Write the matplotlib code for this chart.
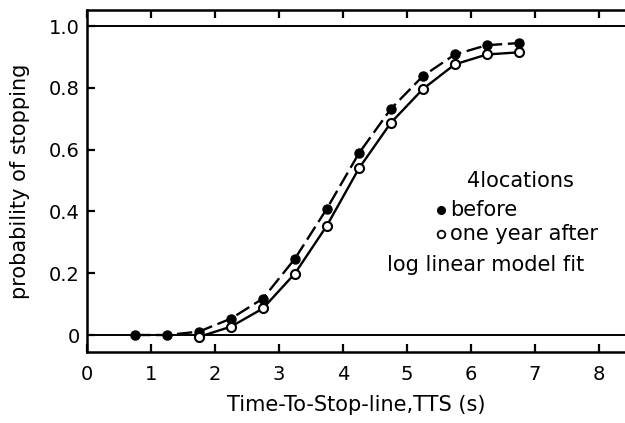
import numpy as np
import matplotlib
matplotlib.use('Agg')
import matplotlib.pyplot as plt

# values
tts = [0.75, 1.25, 1.75, 2.25, 2.75, 3.25, 3.75, 4.25, 4.75, 5.25, 5.75, 6.25, 6.75]
p_before = [0.0, 0.0, 0.011, 0.053, 0.118, 0.247, 0.409, 0.588, 0.732, 0.838, 0.908, 0.938, 0.945]
tts_after = [1.75, 2.25, 2.75, 3.25, 3.75, 4.25, 4.75, 5.25, 5.75, 6.25, 6.75]
p_after = [-0.006, 0.027, 0.086, 0.199, 0.354, 0.539, 0.687, 0.796, 0.876, 0.908, 0.915]

x_ticks = [0, 1, 2, 3, 4, 5, 6, 7, 8]
y_ticks = [0, 0.2, 0.4, 0.6, 0.8, 1.0]
y_ticklabels = ["0", "0.2", "0.4", "0.6", "0.8", "1.0"]

plt.rcParams['font.family'] = ['DejaVu Sans']
fs_tick = 14
fs_lab = 15
fs_key = 15

fig = plt.figure(figsize=(6.25, 4.23), dpi=100)
ax = fig.add_axes([87 / 625, 1 - 352 / 423, 1 - 87 / 625, (352 - 10) / 423])

ax.set_xlim(0, 8.41)
ax.set_ylim(-0.055, 1.052)

# reference lines at 0 and 1
ax.axhline(0, color='black', lw=1.4, zorder=1)
ax.axhline(1.0, color='black', lw=1.4, zorder=1)

ax.plot(tts, p_before, color='black', lw=1.7, dashes=(6.5, 2.4),
        marker='o', ms=6.5, mfc='black', mec='black', zorder=3)
ax.plot(tts_after, p_after, color='black', lw=1.7, ls='-',
        marker='o', ms=6.5, mfc='white', mec='black', mew=1.5, zorder=4)

for side in ['left', 'bottom', 'top']:
    ax.spines[side].set_linewidth(1.8)
ax.spines['right'].set_visible(False)

ax.set_xticks(x_ticks)
ax.set_yticks(y_ticks)
ax.set_yticklabels(y_ticklabels)
ax.tick_params(axis='x', direction='in', length=6, width=1.6, top=True,
               labelsize=fs_tick, pad=9)
ax.tick_params(axis='y', direction='in', length=6, width=1.6,
               labelsize=fs_tick, pad=5)

ax.set_xlabel("Time-To-Stop-line,TTS (s)", fontsize=fs_lab, labelpad=8)
ax.set_ylabel("probability of stopping", fontsize=fs_lab, labelpad=14)

# in-plot key
ax.text(6.77, 0.50, "4locations", fontsize=fs_key, ha='center', va='center')
ax.plot([5.54], [0.406], 'o', color='black', ms=5.5)
ax.text(5.67, 0.406, "before", fontsize=fs_key, ha='left', va='center')
ax.plot([5.54], [0.328], 'o', mfc='white', mec='black', mew=1.3, ms=5.5)
ax.text(5.67, 0.328, "one year after", fontsize=fs_key, ha='left', va='center')
ax.text(4.69, 0.225, "log linear model fit", fontsize=fs_key, ha='left', va='center')

fig.savefig("out.png", dpi=100)
